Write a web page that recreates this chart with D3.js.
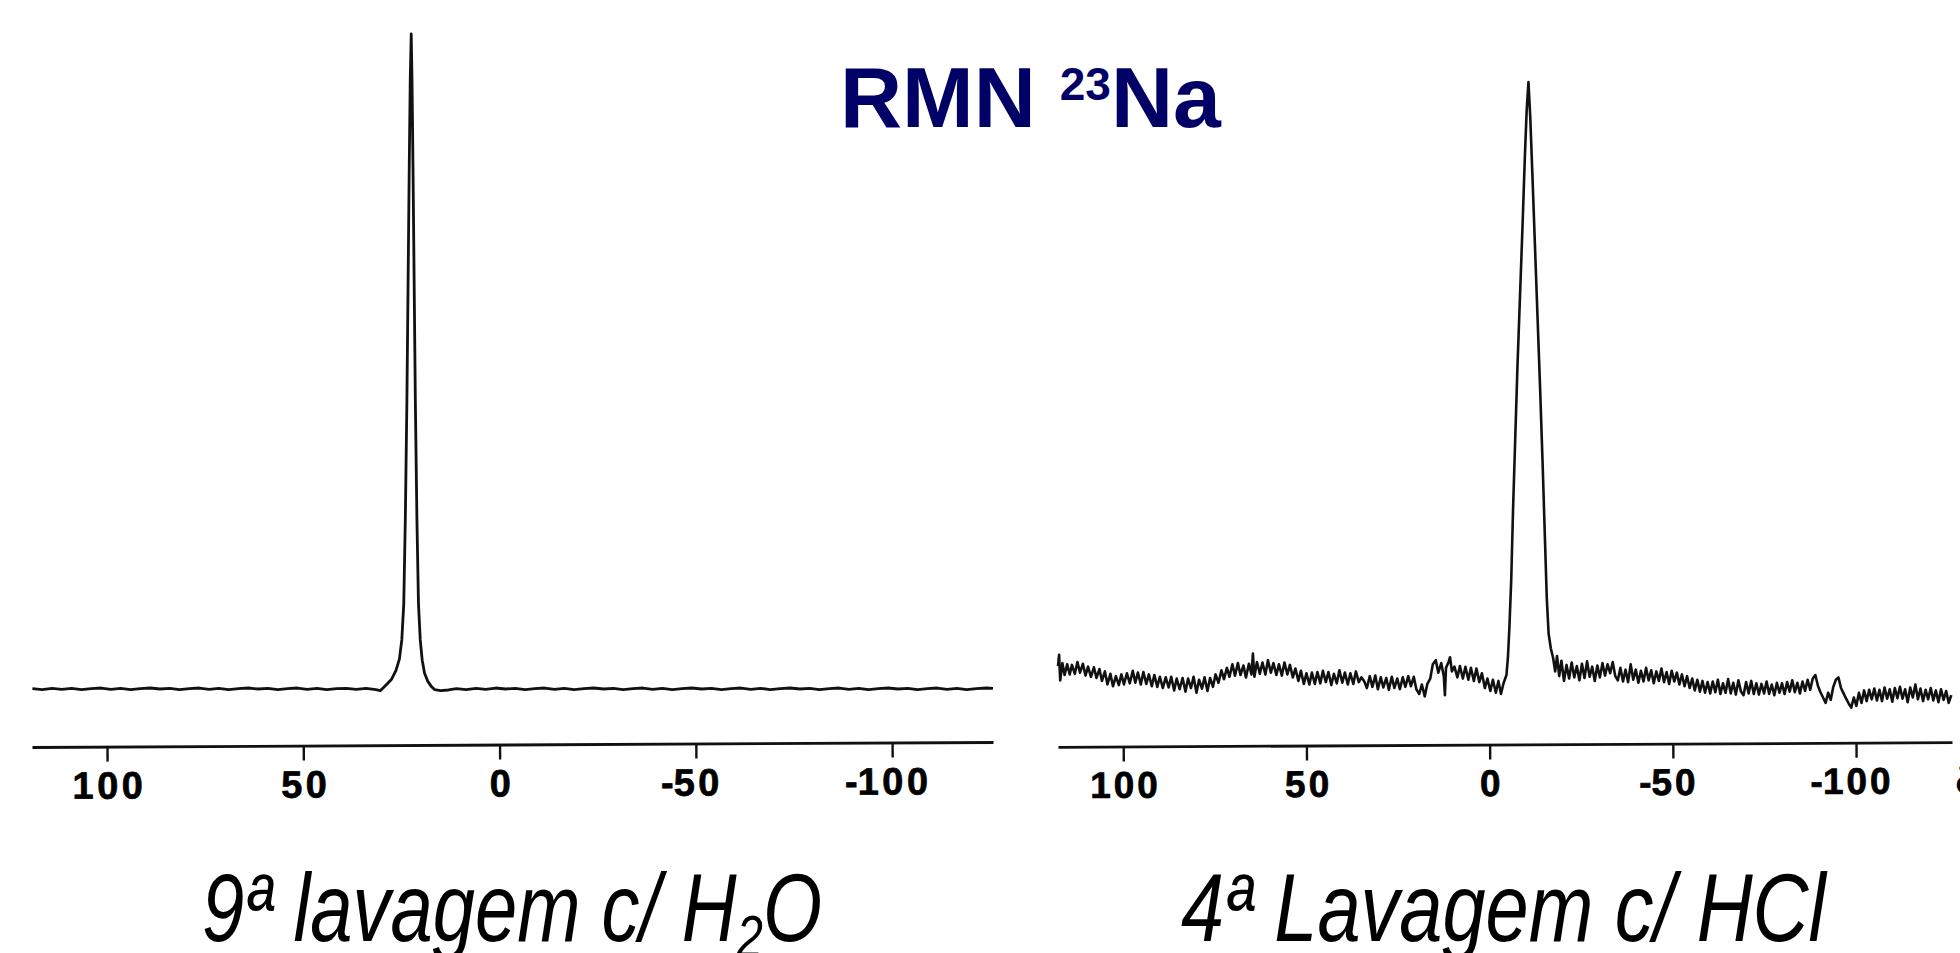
<!DOCTYPE html>
<html>
<head>
<meta charset="utf-8">
<script src="https://cdn.jsdelivr.net/npm/d3@7"></script>
<style>
html, body { margin: 0; padding: 0; background: #fff; overflow: hidden; }
svg { display: block; }
</style>
</head>
<body>
<div id="chart"></div>
<script>
// title and captions
const titleMain = "RMN ";
const titleIsotope = "23";
const titleNucleus = "Na";
const captionLeft = ["9ª lavagem c/ H", "2", "O"];
const captionRight = ["4ª Lavagem c/ HCl"];

// chemical shift axis (ppm)
const ppmTicks = [100, 50, 0, -50, -100];
const axisSymbol = "δ";

// 9th wash with water: [ppm, intensity]
const waterWash = [
	[119.0, 0.05], [116.5, -0.1], [114.0, 0.1], [111.5, -0.05], [109.0, 0.1], [106.5, -0.1], [104.0, 0.05],
	[101.5, 0.15], [99.0, -0.05], [96.5, 0.1], [94.0, -0.1], [91.5, 0.05], [89.0, 0.15], [86.5, 0.0],
	[84.0, 0.1], [81.5, -0.1], [79.0, 0.05], [76.5, 0.15], [74.0, -0.05], [71.5, 0.1], [69.0, -0.1],
	[66.5, 0.05], [64.0, 0.15], [61.5, 0.0], [59.0, 0.1], [56.5, -0.1], [54.0, 0.05], [51.5, 0.15],
	[49.0, -0.05], [46.5, 0.1], [44.0, -0.1], [41.5, 0.05], [39.0, 0.1], [36.5, -0.05], [34.0, 0.1],
	[31.5, -0.1], [30.4, -0.25],
	[29.6, 0.2], [28.6, 0.8], [27.5, 1.5], [26.4, 2.8], [25.5, 4.6], [24.9, 7.5], [24.4, 13], [24.0, 26],
	[23.6, 44], [23.3, 62], [23.0, 80], [22.75, 93], [22.5, 100], [22.3, 93], [22.05, 80], [21.75, 62],
	[21.45, 44], [21.05, 26], [20.65, 13], [20.2, 7.5], [19.7, 4.4], [19.1, 2.4], [18.3, 1.2], [17.4, 0.4],
	[16.5, -0.1], [15.0, -0.25], [13.0, -0.15], [11.0, 0.05],
	[8.5, -0.1], [6.0, 0.1], [3.5, -0.05], [1.0, 0.15], [-1.5, 0.0], [-4.0, 0.1], [-6.5, -0.1], [-9.0, 0.05],
	[-11.5, 0.15], [-14.0, -0.05], [-16.5, 0.1], [-19.0, -0.1], [-21.5, 0.05], [-24.0, 0.15], [-26.5, 0.0],
	[-29.0, 0.1], [-31.5, -0.1], [-34.0, 0.05], [-36.5, 0.15], [-39.0, -0.05], [-41.5, 0.1], [-44.0, -0.1],
	[-46.5, 0.05], [-49.0, 0.15], [-51.5, 0.0], [-54.0, 0.1], [-56.5, -0.1], [-59.0, 0.05], [-61.5, 0.15],
	[-64.0, -0.05], [-66.5, 0.1], [-69.0, -0.1], [-71.5, 0.05], [-74.0, 0.15], [-76.5, 0.0], [-79.0, 0.1],
	[-81.5, -0.1], [-84.0, 0.05], [-86.5, 0.15], [-89.0, -0.05], [-91.5, 0.1], [-94.0, -0.1], [-96.5, 0.05],
	[-99.0, 0.15], [-101.5, 0.0], [-104.0, 0.1], [-106.5, -0.1], [-109.0, 0.05], [-111.5, 0.15], [-114.0, -0.05],
	[-116.5, 0.1], [-119.0, -0.1], [-121.5, 0.05], [-124.0, 0.15], [-125.7, 0.1]
];

// 4th wash with HCl: [ppm, intensity]
const acidWash = [
	[117.8, 1.5], [117.5, 3.4], [117.2, -0.9], [116.6, 2.0], [116.0, 0.0], [115.3, 1.8], [114.6, 0.1], [114.0, 1.7],
	[113.2, 0.2], [112.5, 2.2], [111.8, 0.4], [111.0, 1.9], [110.3, -0.1], [109.6, 1.4], [108.8, -0.3], [108.0, 1.3],
	[107.3, -0.5], [106.5, 1.0], [105.8, -1.0], [105.0, 0.6], [104.3, -1.6], [103.5, 0.2], [102.8, -1.9], [102.0, -0.2],
	[101.2, -1.7], [100.5, 0.1], [99.8, -1.6], [99.0, 0.3], [98.2, -1.4], [97.4, 0.7], [96.7, -1.3], [96.0, 0.4],
	[95.2, -1.6], [94.5, 0.5], [93.7, -1.5], [93.0, 0.1], [92.2, -1.9], [91.5, 0.0], [90.7, -2.0], [90.0, -0.3],
	[89.2, -2.2], [88.4, -0.4], [87.6, -2.1], [86.9, -0.3], [86.1, -2.6], [85.4, -0.6], [84.6, -2.4], [83.8, -0.5],
	[83.0, -2.8], [82.3, -0.6], [81.5, -2.2], [80.8, -0.3], [80.0, -3.0], [79.3, -0.8], [78.5, -2.3], [77.8, -0.4],
	[77.0, -2.7], [76.3, -0.5], [75.5, -2.0], [74.8, 0.1], [74.0, -1.3], [73.2, 0.8], [72.5, -0.7], [71.7, 1.2],
	[71.0, -0.3], [70.2, 1.8], [69.5, -0.1], [68.7, 2.0], [68.0, 0.0], [67.2, 1.6], [66.5, -0.4], [65.7, 1.9],
	[65.0, 0.1], [64.6, 3.6], [64.2, -0.3], [63.5, 2.2], [62.7, 0.2], [62.0, 2.1], [61.2, 0.1], [60.5, 2.5],
	[59.7, 0.4], [59.0, 2.0], [58.2, 0.0], [57.5, 1.8], [56.7, -0.1], [56.0, 2.1], [55.2, 0.1], [54.5, 1.7],
	[53.7, -0.4], [53.0, 1.1], [52.2, -1.0], [51.5, 0.7], [50.7, -1.5], [50.0, 0.3], [49.2, -1.6], [48.5, 0.4],
	[47.7, -1.5], [47.0, 0.5], [46.2, -1.4], [45.5, 0.7], [44.7, -1.2], [44.0, 0.5], [43.2, -1.7], [42.5, 0.2],
	[41.7, -1.4], [41.0, 0.8], [40.2, -1.3], [39.5, 0.4], [38.7, -1.6], [38.0, 0.3], [37.2, -1.5], [36.5, 0.6],
	[35.7, -1.2], [35.0, -0.4], [34.2, -1.1], [33.5, -2.2], [32.7, -0.2], [32.0, -2.0], [31.2, -0.1], [30.5, -2.4],
	[29.7, -0.4], [29.0, -2.1], [28.2, -0.5], [27.5, -2.5], [26.7, -0.3], [26.0, -2.2], [25.2, -0.6], [24.5, -2.4],
	[23.7, -0.4], [23.0, -2.0], [22.2, -0.2], [21.5, -1.9], [20.7, -0.3], [20.0, -2.4], [19.2, -3.2], [18.5, -1.6],
	[17.7, -3.6], [17.0, -1.5], [16.2, -0.6], [15.5, 1.8], [14.7, 2.5], [14.0, 0.4], [13.2, 2.0], [12.5, -0.2],
	[12.2, -3.4], [11.9, 1.2], [11.2, 2.2], [10.8, 3.0], [10.3, 0.6], [9.6, 1.4], [8.8, -0.4], [8.1, 1.5],
	[7.3, -0.6], [6.6, 1.4], [5.8, -0.8], [5.1, 1.2], [4.3, -1.0], [3.6, 1.1], [2.8, -1.2], [2.1, 0.3],
	[1.3, -2.2], [0.6, -0.6], [-0.2, -2.7], [-0.9, -0.8], [-1.7, -3.0], [-2.4, -1.0], [-3.1, -3.2], [-3.8, -1.4],
	[-4.6, 0], [-5.0, 3], [-5.4, 8], [-5.9, 16], [-6.4, 28], [-7.0, 40], [-7.6, 52], [-8.3, 64], [-9.0, 76],
	[-9.6, 87], [-10.1, 95], [-10.6, 100], [-11.1, 94], [-11.7, 84], [-12.4, 72], [-13.1, 60], [-13.8, 48],
	[-14.5, 35], [-15.1, 23], [-15.6, 13], [-16.1, 7], [-16.7, 4.5], [-17.3, 3.0],
	[-17.9, 0.6], [-18.4, 3.2], [-19.0, -0.2], [-19.6, 2.4], [-20.3, -1.0], [-21.0, 1.7], [-21.7, -0.6], [-22.4, 2.1],
	[-23.1, -0.4], [-23.8, 1.5], [-24.5, -0.9], [-25.2, 1.9], [-25.9, -0.5], [-26.6, 2.3], [-27.3, -0.3], [-28.0, 1.4],
	[-28.7, -1.0], [-29.4, 1.6], [-30.1, -0.4], [-30.8, 2.0], [-31.5, -0.1], [-32.2, 1.8], [-32.9, 0.3], [-33.6, 2.2],
	[-34.3, -0.2], [-35.0, -0.9], [-35.7, 1.2], [-36.4, -1.1], [-37.1, 0.9], [-37.8, -1.2], [-38.5, 1.8], [-39.2, -0.8],
	[-39.9, 0.9], [-40.6, -1.3], [-41.3, 0.7], [-42.0, -1.1], [-42.7, 1.2], [-43.4, -0.9], [-44.1, 0.8], [-44.8, -1.4],
	[-45.5, 0.6], [-46.2, -1.0], [-46.9, 1.1], [-47.6, -1.2], [-48.3, 0.5], [-49.0, -1.5], [-49.7, 0.7], [-50.4, -1.1],
	[-51.1, 0.4], [-51.8, -1.6], [-52.5, 0.1], [-53.2, -1.9], [-53.9, -0.2], [-54.6, -2.2], [-55.3, -0.6], [-56.0, -2.6],
	[-56.7, -0.8], [-57.4, -2.8], [-58.1, -1.0], [-58.8, -3.0], [-59.5, -1.2], [-60.2, -3.1], [-60.9, -1.1], [-61.6, -2.9],
	[-62.3, -0.8], [-63.0, -3.2], [-63.7, -1.4], [-64.4, -3.0], [-65.1, -0.7], [-65.8, -3.1], [-66.5, -1.3], [-67.2, -3.3],
	[-67.9, -0.9], [-68.6, -2.8], [-69.3, -3.4], [-70.0, -1.2], [-70.7, -3.1], [-71.4, -1.0], [-72.1, -3.2], [-72.8, -1.4],
	[-73.5, -3.3], [-74.2, -1.5], [-74.9, -3.1], [-75.6, -1.1], [-76.3, -3.2], [-77.0, -1.6], [-77.7, -3.4], [-78.4, -1.3],
	[-79.1, -3.0], [-79.8, -1.4], [-80.5, -3.2], [-81.2, -1.2], [-81.9, -2.8], [-82.6, -0.9], [-83.3, -2.9], [-84.0, -1.3],
	[-84.7, -3.1], [-85.4, -1.1], [-86.1, -2.7], [-86.8, -0.8], [-87.5, -2.5], [-88.2, -0.6], [-88.9, 0.0], [-89.6, -1.8],
	[-90.3, -2.9], [-91.0, -3.8], [-91.7, -4.7], [-92.4, -3.0], [-93.1, -4.2], [-93.8, -2.0], [-94.5, -0.8], [-95.2, -0.4],
	[-95.9, -2.2], [-96.6, -3.1], [-97.3, -4.0], [-98.0, -4.8], [-98.7, -5.5], [-99.4, -3.8], [-100.1, -5.2], [-100.8, -3.0],
	[-101.5, -4.7], [-102.2, -2.6], [-102.9, -4.4], [-103.6, -2.5], [-104.3, -4.1], [-105.0, -2.3], [-105.7, -4.3], [-106.4, -2.5],
	[-107.1, -4.4], [-107.8, -2.1], [-108.5, -4.0], [-109.2, -2.4], [-109.9, -4.5], [-110.6, -2.2], [-111.3, -3.9], [-112.0, -2.0],
	[-112.7, -4.0], [-113.4, -2.4], [-114.1, -4.6], [-114.8, -2.1], [-115.5, -3.8], [-116.2, -1.6], [-116.9, -4.1], [-117.6, -2.3],
	[-118.3, -4.4], [-119.0, -2.5], [-119.7, -4.1], [-120.4, -2.2], [-121.1, -4.3], [-121.8, -2.6], [-122.5, -4.6], [-123.2, -2.4],
	[-123.9, -4.2], [-124.6, -2.7], [-125.3, -4.7], [-126.0, -3.4]
];

const width = 1960, height = 953;

const svg = d3.select("#chart")
	.append("svg")
	.attr("width", width)
	.attr("height", height);

svg.append("rect")
	.attr("width", width)
	.attr("height", height)
	.attr("fill", "#fff");

const panels = [
	{data: waterWash, xDomain: [119.1, -125.7], xRange: [32, 993], yRange: [689, 34], axisY: 744.5,
		labelSize: 38, labelSpacing: 3.5, lineWidth: 2.8, caption: captionLeft, captionX: [202, 822]},
	{data: acidWash, xDomain: [117.8, -126.2], xRange: [1058, 1952], yRange: [675, 82], axisY: 744.5,
		labelSize: 37, labelSpacing: 3, lineWidth: 2.6, caption: captionRight, captionX: [1181, 1828]}
];

panels.forEach((p, i) => {
	const x = d3.scaleLinear().domain(p.xDomain).range(p.xRange);
	const y = d3.scaleLinear().domain([0, 100]).range(p.yRange);
	const cx = (p.xRange[0] + p.xRange[1]) / 2;

	// spectrum
	svg.append("path")
		.datum(p.data)
		.attr("d", d3.line().x(d => x(d[0])).y(d => y(d[1])))
		.attr("fill", "none")
		.attr("stroke", "#111")
		.attr("stroke-width", p.lineWidth)
		.attr("stroke-linejoin", "round");

	// ppm axis (the scan is a little tilted)
	const axis = d3.axisBottom(x)
		.tickValues(ppmTicks)
		.tickSize(15)
		.tickSizeOuter(0)
		.tickPadding(10)
		.tickFormat(d => Math.abs(d));

	const g = svg.append("g")
		.attr("transform", `translate(0,${p.axisY}) rotate(-0.3,${cx},0)`)
		.call(axis)
		.attr("font-family", "'Liberation Sans', Arial, sans-serif")
		.attr("font-weight", "bold")
		.attr("font-size", p.labelSize);

	g.select(".domain").attr("stroke", "#111").attr("stroke-width", 2.8);
	g.selectAll(".tick line").attr("stroke", "#111").attr("stroke-width", 2.4);
	g.selectAll(".tick text")
		.attr("fill", "#000")
		.attr("stroke", "#000")
		.attr("stroke-width", 0.7)
		.attr("letter-spacing", p.labelSpacing)
		.attr("dx", p.labelSpacing / 2);

	// minus sign hangs to the left of the centred digits
	g.selectAll(".tick").filter(d => d < 0).each(function() {
		const t = d3.select(this).select("text");
		const w = t.node().getComputedTextLength();
		d3.select(this).append("text")
			.attr("fill", "#000")
			.attr("stroke", "#000")
			.attr("stroke-width", 0.7)
			.attr("x", -w / 2 + p.labelSpacing / 2)
			.attr("y", t.attr("y"))
			.attr("dy", t.attr("dy"))
			.attr("text-anchor", "end")
			.text("-");
	});

	if (i === 1) {
		g.append("text")
			.attr("fill", "#000")
			.attr("x", p.xRange[1] + 3)
			.attr("y", 25)
			.attr("dy", "0.71em")
			.attr("text-anchor", "start")
			.text(axisSymbol);
	}

	// caption, squeezed to the width of the original lettering
	const cg = svg.append("g");
	const ct = cg.append("text")
		.attr("font-family", "'Liberation Sans', Arial, sans-serif")
		.attr("font-style", "italic")
		.attr("font-size", 96)
		.attr("fill", "#000");
	if (p.caption.length === 3) {
		ct.append("tspan").text(p.caption[0]);
		ct.append("tspan").attr("font-size", 60).attr("dy", 16).text(p.caption[1]);
		ct.append("tspan").attr("dy", -16).text(p.caption[2]);
	} else {
		ct.text(p.caption[0]);
	}
	const bb = ct.node().getBBox();
	const s = (p.captionX[1] - p.captionX[0]) / bb.width;
	cg.attr("transform", `translate(${p.captionX[0] - bb.x * s},941) scale(${s},1)`);
});

// title
const title = svg.append("text")
	.attr("x", 840)
	.attr("y", 127)
	.attr("font-family", "'Liberation Sans', Arial, sans-serif")
	.attr("font-weight", "bold")
	.attr("font-size", 86)
	.attr("fill", "#000066");
title.append("tspan").text(titleMain);
title.append("tspan").attr("font-size", 46).attr("dy", -27).text(titleIsotope);
title.append("tspan").attr("dy", 27).text(titleNucleus);
</script>
</body>
</html>
